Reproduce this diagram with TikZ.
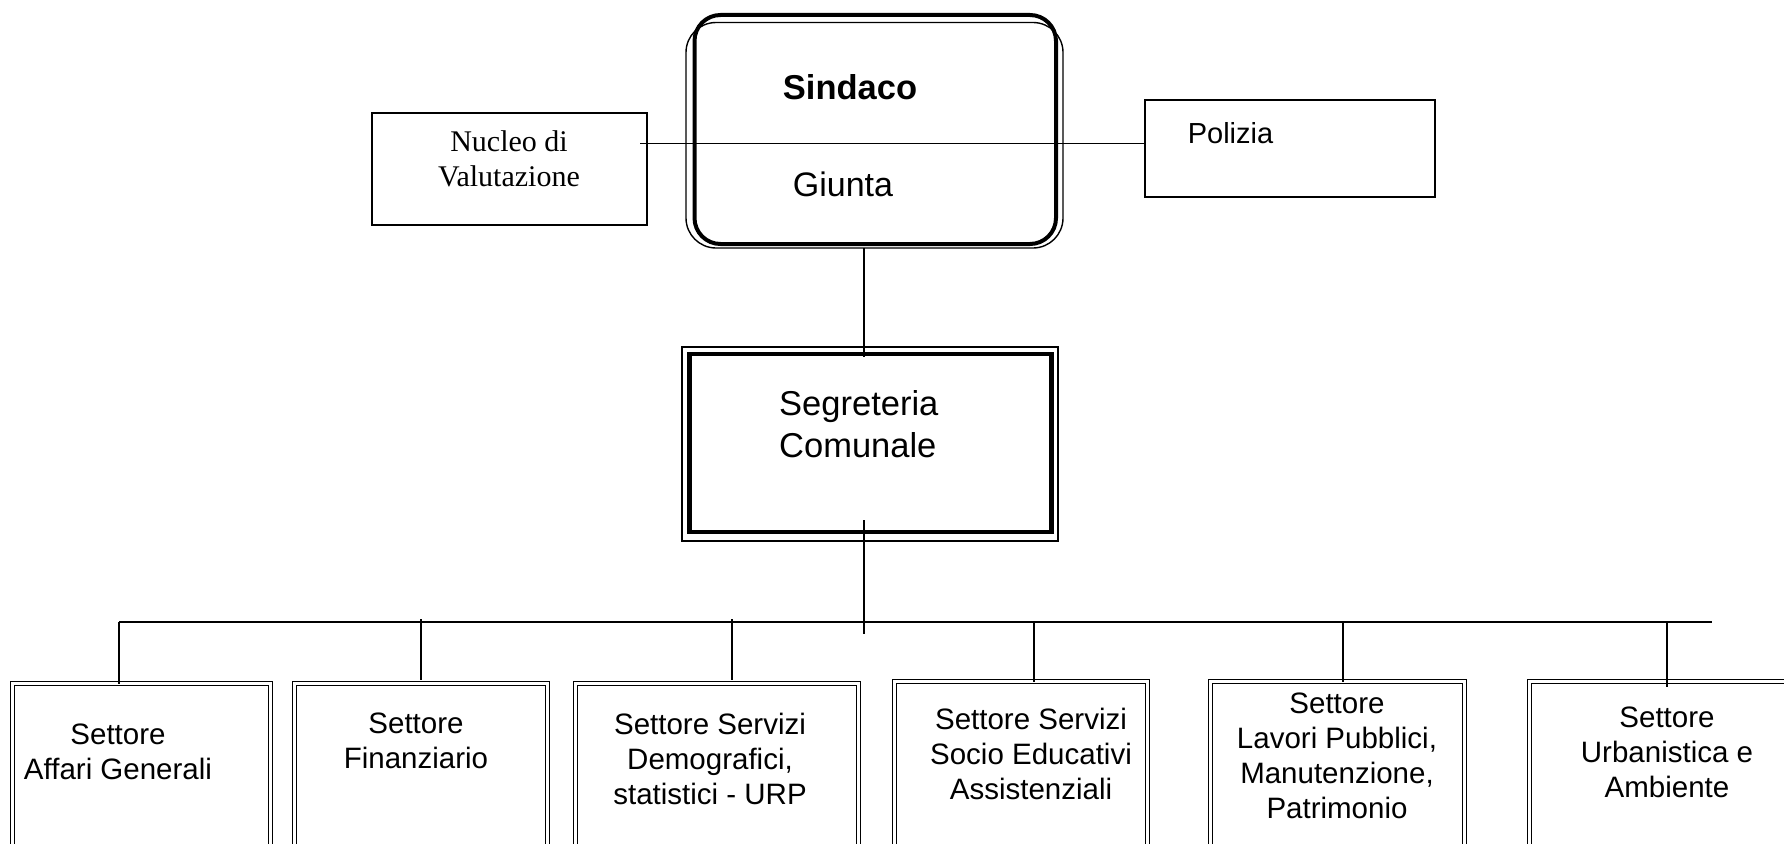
\documentclass[tikz,border=0pt]{standalone}
\usepackage{fontspec}
\setmainfont{Liberation Sans}
\newfontfamily\timesfont{Liberation Serif}
\begin{document}
\begin{tikzpicture}[x=1pt,y=-1pt,
  conn/.style={line width=1.5pt},
  sbox/.style={draw, line width=1.3pt, double, double distance=2.4pt, anchor=north west, inner sep=0pt, outer sep=0pt},
  pbox/.style={draw, line width=1.6pt, anchor=north west, inner sep=0pt, outer sep=0pt},
  thickframe/.style={line width=4.5pt},
  lbl/.style={anchor=base, align=center, inner sep=0pt, font=\fontsize{29.5}{35}\selectfont}]
\useasboundingbox (0,0) rectangle (1784,843);
\clip (0,0) rectangle (1784,843);

% Sindaco / Giunta
\node[pbox, line width=1.4pt, rounded corners=30pt, minimum width=377pt, minimum height=225.5pt] (sind) at (686,22.5) {};
\draw[thickframe, line width=4pt, rounded corners=26pt] (694.5,15) rectangle (1056,244);
\node[lbl, font=\bfseries\fontsize{34.5}{40}\selectfont] (tsind) at (850,99) {Sindaco};
\node[lbl, font=\fontsize{34}{40}\selectfont] (tgiu) at (843,196) {Giunta};

% Nucleo di Valutazione
\node[pbox, minimum width=275pt, minimum height=112pt] (nuc) at (372,113) {};
\node[lbl, font=\timesfont\fontsize{30}{35}\selectfont] (tnuc) at (509,186) {Nucleo di\\Valutazione};

% Polizia
\node[pbox, minimum width=290pt, minimum height=97pt] (pol) at (1145,100) {};
\node[lbl, font=\fontsize{29}{35}\selectfont] (tpol) at (1230.5,143) {Polizia};

% horizontal line through Sindaco
\coordinate (hl) at (640,143.5);
\draw[conn] (hl) -- (hl -| pol.west);

% Segreteria Comunale
\node[pbox, line width=1.5pt, minimum width=376pt, minimum height=194pt] (seg) at (682,347) {};
\draw[thickframe] (689.5,354) rectangle (1051.5,532);
\node[lbl, anchor=base west, align=left, font=\fontsize{34.5}{42}\selectfont] (tseg) at (779,457) {Segreteria\\Comunale};

% Sindaco -> Segreteria
\coordinate (sb) at (864,248);
\coordinate (st) at (864,357);
\draw[conn] (sb) -- (st);

% Settore boxes
\node[sbox, minimum width=258pt, minimum height=190pt] (b1) at (12.5,683.5) {};
\node[sbox, minimum width=253pt, minimum height=190pt] (b2) at (294.5,683.5) {};
\node[sbox, minimum width=283pt, minimum height=190pt] (b3) at (575.5,683.5) {};
\node[sbox, minimum width=253pt, minimum height=190pt] (b4) at (894.5,681.5) {};
\node[sbox, minimum width=254pt, minimum height=190pt] (b5) at (1210.5,681.5) {};
\node[sbox, minimum width=300pt, minimum height=190pt] (b6) at (1529.5,681.5) {};

\node[lbl] (t1) at (118,779) {Settore\\Affari Generali};
\node[lbl] (t2) at (416,768) {Settore\\Finanziario};
\node[lbl] (t3) at (710,804) {Settore Servizi\\Demografici,\\statistici - URP};
\node[lbl] (t4) at (1031,799) {Settore Servizi\\Socio Educativi\\Assistenziali};
\node[lbl] (t5) at (1337,818) {Settore\\Lavori Pubblici,\\Manutenzione,\\Patrimonio};
\node[lbl] (t6) at (1667,797) {Settore\\Urbanistica e\\Ambiente};

% bus
\coordinate (segb) at (864,520);
\coordinate (segd) at (864,634);
\draw[conn] (segb) -- (segd);
\coordinate (busL) at (119,622);
\coordinate (busR) at (1712,622);
\draw[conn] (busL) -- (busR);
\coordinate (d1) at (119,622);
\coordinate (d2) at (421,619);
\coordinate (d3) at (732,619);
\coordinate (d4) at (1034,622);
\coordinate (d5) at (1343,622);
\coordinate (d6) at (1667,622);
\draw[conn] (d1) -- (d1 |- b1.north);
\draw[conn] (d2) -- ([yshift=4pt]d2 |- b2.north);
\draw[conn] (d3) -- ([yshift=4pt]d3 |- b3.north);
\draw[conn] (d4) -- (d4 |- b4.north);
\draw[conn] (d5) -- (d5 |- b5.north);
\draw[conn] (d6) -- ([yshift=-5pt]d6 |- b6.north);
\end{tikzpicture}
\end{document}
